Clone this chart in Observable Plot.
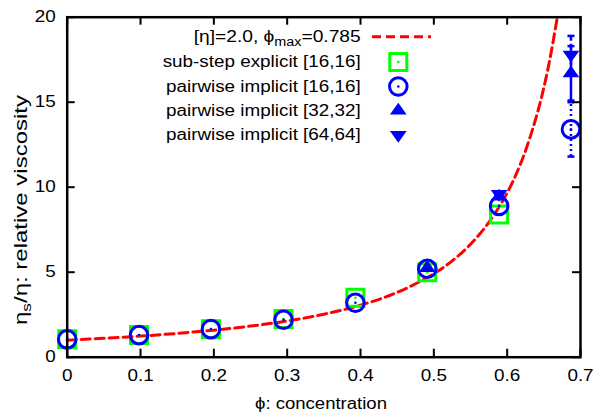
<!DOCTYPE html>
<html><head><meta charset="utf-8">
<script src="https://cdn.jsdelivr.net/npm/d3@7"></script>
<script src="https://cdn.jsdelivr.net/npm/@observablehq/plot@0.6"></script>
<style>body{margin:0;background:#fff} svg{display:block}</style>
</head><body><div id="chart"></div>
<script>
// ---- data ----
const xTicks = [0, 0.1, 0.2, 0.3, 0.4, 0.5, 0.6, 0.7];
const yTicks = [0, 5, 10, 15, 20];

// model curve [eta]=2.0, phi_max=0.785
const curvePhi = [0, 0.05, 0.1, 0.15, 0.2, 0.25, 0.3, 0.35, 0.4, 0.45, 0.5, 0.525, 0.55, 0.575, 0.6, 0.62, 0.64, 0.655, 0.67];
const curveVal = [1.0, 1.11, 1.24, 1.40, 1.59, 1.83, 2.13, 2.53, 3.06, 3.81, 4.91, 5.67, 6.64, 7.93, 9.67, 11.57, 14.18, 16.83, 20.4];

const subStepPhi = [0, 0.098, 0.196, 0.295, 0.393, 0.491, 0.589];
const subStepVal = [1.05, 1.3, 1.65, 2.25, 3.5, 5.0, 8.4];

const pw16Phi = [0, 0.098, 0.196, 0.295, 0.393, 0.491, 0.589, 0.687];
const pw16Val = [1.05, 1.3, 1.65, 2.2, 3.2, 5.2, 8.9, 13.4];
const pw16Err = [0, 0, 0, 0, 0, 0, 0, 1.6];

const pw32Phi = [0.491, 0.589, 0.687];
const pw32Val = [5.25, 9.45, 16.7];
const pw32Err = [0, 0, 1.6];

const pw64Phi = [0.589, 0.687];
const pw64Val = [9.6, 17.8];
const pw64Err = [0, 1.1];

const legendLabels = ["sub-step explicit [16,16]", "pairwise implicit [16,16]", "pairwise implicit [32,32]", "pairwise implicit [64,64]"];

// ---- tables ----
const curve = curvePhi.map((x, i) => ({x, y: curveVal[i]}));
const subStep = subStepPhi.map((x, i) => ({x, y: subStepVal[i]}));
const mk = (P, V, E) => P.map((x, i) => ({x, y: V[i], e: E[i]}));
const pw16 = mk(pw16Phi, pw16Val, pw16Err);
const pw32 = mk(pw32Phi, pw32Val, pw32Err);
const pw64 = mk(pw64Phi, pw64Val, pw64Err);
const withErr = a => a.filter(d => d.e > 0);
const caps = a => withErr(a).flatMap(d => [{x: d.x, y: d.y - d.e}, {x: d.x, y: d.y + d.e}]);

// ---- layout ----
const W = 595, H = 414, mL = 66.7, mR = 15, mT = 16.7, mB = 57.3;
const plotW = W - mL - mR, plotH = H - mT - mB, tk = 8;
const FONT = "'Liberation Sans', Arial, sans-serif";
const BLUE = "#0000ff", GREEN = "#00ff00", RED = "#ff0000";

const triUp = {draw(ctx, size) { const r = Math.sqrt(size / Math.PI), w = r * 1.35, h = r * 1.9;
  ctx.moveTo(0, -h * 2 / 3); ctx.lineTo(w, h / 3); ctx.lineTo(-w, h / 3); ctx.closePath(); }};
const triDown = {draw(ctx, size) { const r = Math.sqrt(size / Math.PI), w = r * 1.35, h = r * 1.9;
  ctx.moveTo(0, h * 2 / 3); ctx.lineTo(w, -h / 3); ctx.lineTo(-w, -h / 3); ctx.closePath(); }};
const capSym = {draw(ctx, size) { const r = Math.sqrt(size / Math.PI); ctx.moveTo(-r, 0); ctx.lineTo(r, 0); }};

const fmtX = d => d === 0 ? "0" : d.toFixed(1);

const plot = Plot.plot({
  width: W, height: H,
  marginLeft: mL, marginRight: mR, marginTop: mT, marginBottom: mB,
  style: {fontFamily: FONT, fontSize: "16px", background: "white", color: "black"},
  x: {domain: [0, 0.7]},
  y: {domain: [0, 20]},
  marks: [
    Plot.line(curve, {x: "x", y: "y", stroke: RED, strokeWidth: 3, strokeDasharray: "9,5", curve: "catmull-rom", clip: true}),
    // error bars
    Plot.ruleX(withErr(pw16), {x: "x", y1: d => d.y - d.e, y2: d => d.y + d.e, stroke: BLUE, strokeWidth: 2.5, strokeDasharray: "2,3"}),
    Plot.dot(caps(pw16), {x: "x", y: "y", symbol: capSym, r: 3.5, stroke: BLUE, strokeWidth: 2.5}),
    Plot.ruleX(withErr(pw32), {x: "x", y1: d => d.y - d.e, y2: d => d.y + d.e, stroke: BLUE, strokeWidth: 2.5}),
    Plot.dot(caps(pw32), {x: "x", y: "y", symbol: capSym, r: 3.5, stroke: BLUE, strokeWidth: 2.5}),
    Plot.ruleX(withErr(pw64), {x: "x", y1: d => d.y - d.e, y2: d => d.y + d.e, stroke: BLUE, strokeWidth: 2.5, strokeDasharray: "5,3"}),
    Plot.dot(caps(pw64), {x: "x", y: "y", symbol: capSym, r: 3.5, stroke: BLUE, strokeWidth: 2.5}),
    // series
    Plot.dot(subStep, {x: "x", y: "y", symbol: "square", r: 9.6, stroke: GREEN, strokeWidth: 3, fill: "none"}),
    Plot.dot(subStep, {x: "x", y: "y", r: 1.3, fill: GREEN}),
    Plot.dot(pw16, {x: "x", y: "y", symbol: "circle", r: 8.8, stroke: BLUE, strokeWidth: 3, fill: "none"}),
    Plot.dot(pw16, {x: "x", y: "y", r: 1.3, fill: BLUE}),
    Plot.dot(pw32, {x: "x", y: "y", symbol: triUp, r: 6.2, fill: BLUE}),
    Plot.dot(pw64, {x: "x", y: "y", symbol: triDown, r: 6.2, fill: BLUE}),
    // inward ticks on all four sides
    Plot.tickX(xTicks, {x: d => d, stroke: "black", strokeWidth: 2, insetTop: plotH - tk}),
    Plot.tickX(xTicks, {x: d => d, stroke: "black", strokeWidth: 2, insetBottom: plotH - tk}),
    Plot.tickY(yTicks, {y: d => d, stroke: "black", strokeWidth: 2, insetRight: plotW - tk}),
    Plot.tickY(yTicks, {y: d => d, stroke: "black", strokeWidth: 2, insetLeft: plotW - tk}),
    Plot.axisX(xTicks, {tickSize: 0, tickPadding: 12, tickFormat: fmtX, label: null}),
    Plot.axisY(yTicks, {tickSize: 0, tickPadding: 11.5, label: null}),
    Plot.frame({stroke: "black", strokeWidth: 2.5})
  ]
});

document.getElementById("chart").appendChild(plot);
const svg = d3.select(plot);

// widen tick labels like the reference's rendering
svg.selectAll('g[aria-label$="tick label"] text').each(function() {
  const t = this.getAttribute("transform") || "";
  const x = +(this.getAttribute("x") || 0);
  this.removeAttribute("x");
  this.setAttribute("transform", `${t} translate(${x},0) scale(1.18,1)`);
});

// axis titles
const g = svg.append("g").attr("font-family", FONT).attr("font-size", 16).attr("fill", "black");
g.append("text").attr("x", 321).attr("y", 409).attr("text-anchor", "middle")
  .attr("textLength", 132).attr("lengthAdjust", "spacingAndGlyphs").text("\u03d5: concentration");
const yl = g.append("text").attr("transform", "translate(27,210) rotate(-90)").attr("text-anchor", "middle")
  .attr("font-size", 18).attr("textLength", 230).attr("lengthAdjust", "spacingAndGlyphs");
yl.append("tspan").text("\u03b7");
yl.append("tspan").attr("dy", 4).attr("font-size", 13).text("s");
yl.append("tspan").attr("dy", -4).text("/\u03b7: relative viscosity");

// legend
const lx = 360.7, sx = 398.3;
const base = [42, 67, 91.5, 115.5, 140];
const t0 = g.append("text").attr("x", lx).attr("y", base[0]).attr("text-anchor", "end")
  .attr("textLength", 167).attr("lengthAdjust", "spacingAndGlyphs");
t0.append("tspan").text("[\u03b7]=2.0, \u03d5");
t0.append("tspan").attr("dy", 4).attr("font-size", 12).text("max");
t0.append("tspan").attr("dy", -4).text("=0.785");
const widths = [198, 194.7, 194.7, 194.7];
legendLabels.forEach((s, i) => {
  g.append("text").attr("x", lx).attr("y", base[i + 1]).attr("text-anchor", "end")
    .attr("textLength", widths[i]).attr("lengthAdjust", "spacingAndGlyphs").text(s);
});
g.append("line").attr("x1", 372).attr("x2", 431).attr("y1", 36.7).attr("y2", 36.7)
  .attr("stroke", RED).attr("stroke-width", 3).attr("stroke-dasharray", "9,5");
const sym = (type, r) => d3.symbol(type, Math.PI * r * r)();
const ly = base.slice(1).map(b => b - 5);
g.append("path").attr("transform", `translate(${sx},${ly[0]})`).attr("d", sym(d3.symbolSquare, 9.6))
  .attr("fill", "none").attr("stroke", GREEN).attr("stroke-width", 3);
g.append("circle").attr("cx", sx).attr("cy", ly[0]).attr("r", 1.3).attr("fill", GREEN);
g.append("circle").attr("cx", sx).attr("cy", ly[1]).attr("r", 8.8).attr("fill", "none").attr("stroke", BLUE).attr("stroke-width", 3);
g.append("circle").attr("cx", sx).attr("cy", ly[1]).attr("r", 1.3).attr("fill", BLUE);
g.append("path").attr("transform", `translate(${sx},${ly[2]})`).attr("d", sym(triUp, 6.2)).attr("fill", BLUE);
g.append("path").attr("transform", `translate(${sx},${ly[3]})`).attr("d", sym(triDown, 6.2)).attr("fill", BLUE);
</script>
</body></html>
